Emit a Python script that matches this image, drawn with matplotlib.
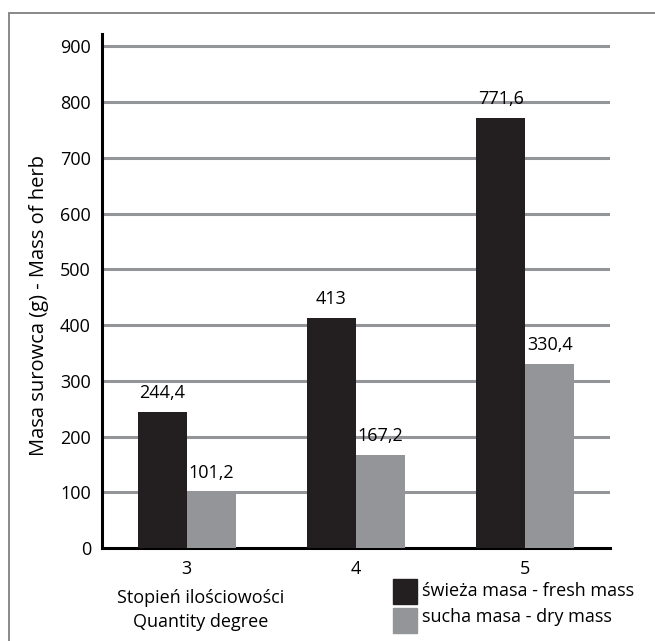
import matplotlib.pyplot as plt
import matplotlib.patches as mpatches
import numpy as np

# dane z wykresu
kategorie = ["3", "4", "5"]
swieza = [244.4, 413, 771.6]
sucha = [101.2, 167.2, 330.4]
etykiety_swieza = ["244,4", "413", "771,6"]
etykiety_sucha = ["101,2", "167,2", "330,4"]

czarny = "#231f20"
szary = "#939598"

plt.rcParams['font.family'] = ['Open Sans', 'DejaVu Sans']
fs = 13

W, H = 655, 641
fig = plt.figure(figsize=(W/100, H/100), dpi=100)
ax = fig.add_axes([102/W, (H-548)/H, (610-102)/W, (548-34)/H])

x = np.arange(len(kategorie))
w = 0.29
ax.bar(x - w/2, swieza, w, color=czarny, zorder=3)
ax.bar(x + w/2, sucha, w, color=szary, zorder=3)

for i in range(len(x)):
    ax.annotate(etykiety_swieza[i], (x[i] - w/2, swieza[i]), xytext=(0, 7),
                textcoords="offset points", ha="center", va="bottom", fontsize=fs)
    ax.annotate(etykiety_sucha[i], (x[i] + w/2, sucha[i]), xytext=(0, 7),
                textcoords="offset points", ha="center", va="bottom", fontsize=fs)

ax.set_xlim(-0.5, 2.5)
ax.set_ylim(0, 922)
ax.set_yticks(range(0, 1000, 100))
ax.set_xticks(x)
ax.set_xticklabels(kategorie)
ax.tick_params(length=0, labelsize=fs)
ax.tick_params(axis="y", pad=8)
ax.tick_params(axis="x", pad=9)

for v in range(100, 1000, 100):
    ax.axhline(v, color=szary, lw=2.2, zorder=1)

for s in ["top", "right"]:
    ax.spines[s].set_visible(False)
ax.spines["left"].set_linewidth(2.2)
ax.spines["bottom"].set_linewidth(2.2)
ax.spines["left"].set_color("black")
ax.spines["bottom"].set_color("black")

fig.text(39/W, 1 - 305/H, "Masa surowca (g) - Mass of herb", rotation=90,
         ha="center", va="center", fontsize=14.5)
fig.text(201/W, 1 - 598/H, "Stopień ilościowości", ha="center", va="center", fontsize=fs)
fig.text(201/W, 1 - 622/H, "Quantity degree", ha="center", va="center", fontsize=fs)

# legenda
fig.patches.append(mpatches.Rectangle((393/W, 1 - 604/H), 24/W, 25/H,
                                      transform=fig.transFigure, color=czarny))
fig.patches.append(mpatches.Rectangle((393/W, 1 - 633/H), 24/W, 25/H,
                                      transform=fig.transFigure, color=szary))
fig.text(422/W, 1 - 591/H, "świeża masa - fresh mass", ha="left", va="center", fontsize=fs)
fig.text(422/W, 1 - 617/H, "sucha masa - dry mass", ha="left", va="center", fontsize=fs)

# ramka
fig.patches.append(mpatches.Rectangle((9/W, -0.1), 1.1, 1 - 13/H + 0.1,
                                      transform=fig.transFigure, fill=False,
                                      edgecolor="#808080", lw=1.3))

fig.savefig("out.png", dpi=100)
